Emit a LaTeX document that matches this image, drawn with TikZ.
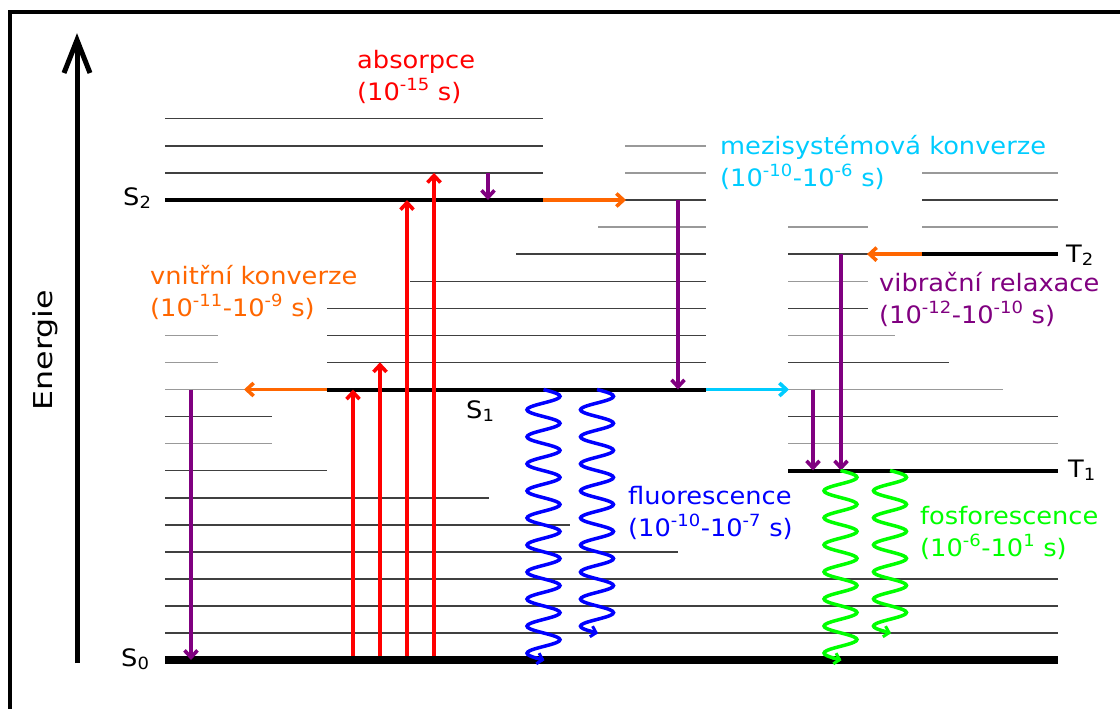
\documentclass[tikz,border=0pt]{standalone}
\usepackage{fontspec}
\setmainfont{DejaVu Sans}[FakeStretch=1.07]
\newfontfamily\enfont{DejaVu Sans}[FakeStretch=1.22]
\usetikzlibrary{arrows.meta}
\definecolor{cOr}{HTML}{FF6600}
\definecolor{cCy}{HTML}{00CCFF}
\definecolor{cPu}{HTML}{800080}
\definecolor{cGr}{HTML}{00FF00}
\definecolor{cRe}{HTML}{FF0000}
\definecolor{cBl}{HTML}{0000FF}
\begin{document}
\begin{tikzpicture}[x=1pt,y=-1pt,
  lvl/.style={line width=1.3pt, black!75},
  lvlL/.style={line width=1.3pt, black!40},
  mainlvl/.style={line width=4pt, black},
  ground/.style={line width=8pt, black},
  tr/.style={line width=3.6pt, -{Straight Barb[length=7pt,width=13pt]}},
  wave/.style={line width=3.5pt},
  wavetip/.style={line width=3pt, -{Straight Barb[length=5pt,width=11pt]}},
  lab/.style={font=\fontsize{24}{32}\selectfont, anchor=base west, align=left, inner sep=0pt},
  st/.style={font=\fontsize{24}{28}\selectfont, anchor=base west, inner sep=0pt},
]
\useasboundingbox (0,0) rectangle (1120,709);
% frame
\draw[line width=4pt] (10,712) -- (10,12) -- (1123,12);
% energy axis
\coordinate (ax0) at (77,663);
\coordinate (ax1) at (77,40);
\draw[line width=5pt] (ax0) -- (ax1);
\draw[line width=5pt, line join=miter] (64,73) -- (ax1) -- (90,73);
\node[rotate=90, inner sep=0pt] (en) at (45,350) {\enfont\fontsize{26}{30}\selectfont Energie};

% ---- levels: S0 manifold
\draw[ground] (165,660) -- (1058,660);
\draw[lvl] (165,633) -- (1058,633);
\draw[lvl] (165,606) -- (1058,606);
\draw[lvl] (165,579) -- (1058,579);
\draw[lvl] (165,552) -- (678,552);
\draw[lvl] (165,525) -- (570,525);
\draw[lvl] (165,498) -- (489,498);
\draw[lvl] (165,470.5) -- (327,470.5);
\draw[lvlL] (165,443.5) -- (272,443.5);
\draw[lvl] (165,416.5) -- (272,416.5);
\draw[lvlL] (165,389.5) -- (327,389.5);
\draw[lvlL] (165,362.3) -- (218,362.3);
\draw[lvlL] (165,335.3) -- (218,335.3);
% ---- S1 manifold
\draw[mainlvl] (327,389.5) -- (706,389.5);
\draw[lvl] (327,362.3) -- (706,362.3);
\draw[lvl] (327,335.3) -- (706,335.3);
\draw[lvl] (327,308.2) -- (706,308.2);
\draw[lvl] (410,281.2) -- (706,281.2);
\draw[lvl] (516,254.1) -- (706,254.1);
\draw[lvlL] (598,227) -- (706,227);
\draw[lvl] (625,200) -- (706,200);
\draw[lvlL] (625,172.9) -- (706,172.9);
\draw[lvlL] (625,145.9) -- (706,145.9);
% ---- S2 manifold
\draw[mainlvl] (165,200) -- (543,200);
\draw[lvl] (165,172.9) -- (543,172.9);
\draw[lvl] (165,145.9) -- (543,145.9);
\draw[lvl] (165,118.8) -- (543,118.8);
% ---- T1 manifold
\draw[mainlvl] (788,470.5) -- (1058,470.5);
\draw[lvlL] (788,443.5) -- (1058,443.5);
\draw[lvl] (788,416.5) -- (1058,416.5);
\draw[lvlL] (788,389.5) -- (1003,389.5);
\draw[lvl] (788,362.3) -- (949,362.3);
\draw[lvlL] (788,335.3) -- (895,335.3);
\draw[lvl] (788,308.2) -- (868,308.2);
\draw[lvlL] (788,281.2) -- (868,281.2);
\draw[lvl] (788,254.1) -- (868,254.1);
\draw[lvlL] (788,227) -- (868,227);
% ---- T2 manifold
\draw[mainlvl] (922,254.1) -- (1058,254.1);
\draw[lvlL] (922,227) -- (1058,227);
\draw[lvl] (922,200) -- (1058,200);
\draw[lvlL] (922,172.9) -- (1058,172.9);

% ---- state labels
\node[st] (S0) at (121,666) {S\textsubscript{0}};
\node[st] (S1) at (466,418) {S\textsubscript{1}};
\node[st] (S2) at (123,205) {S\textsubscript{2}};
\node[st] (T1) at (1068,477) {T\textsubscript{1}};
\node[st] (T2) at (1066,262) {T\textsubscript{2}};

% ---- coordinates for transitions
\coordinate (a1s) at (353,656); \coordinate (a1e) at (353,389.5);
\coordinate (a2s) at (380,656); \coordinate (a2e) at (380,362.3);
\coordinate (a3s) at (407,656); \coordinate (a3e) at (407,200);
\coordinate (a4s) at (434,656); \coordinate (a4e) at (434,172.9);
\coordinate (v1s) at (488,172.9); \coordinate (v1e) at (488,200);
\coordinate (v2s) at (678,200); \coordinate (v2e) at (678,389.5);
\coordinate (v3s) at (191,389.5); \coordinate (v3e) at (191,660);
\coordinate (v4s) at (813,389.5); \coordinate (v4e) at (813,470.5);
\coordinate (v5s) at (841,254.1); \coordinate (v5e) at (841,470.5);
\coordinate (o1s) at (327,389.5); \coordinate (o1e) at (244,389.5);
\coordinate (o2s) at (543,200); \coordinate (o2e) at (626,200);
\coordinate (o3s) at (922,254.1); \coordinate (o3e) at (867,254.1);
\coordinate (c1s) at (706,389.5); \coordinate (c1e) at (789,389.5);

% absorption
\foreach \i in {1,...,4} \draw[tr, cRe] (a\i s) -- (a\i e);
% vibrational relaxation
\foreach \i in {1,...,5} \draw[tr, cPu] (v\i s) -- (v\i e);
% internal conversion
\foreach \i in {1,...,3} \draw[tr, cOr] (o\i s) -- (o\i e);
% intersystem crossing
\draw[tr, cCy] (c1s) -- (c1e);

% fluorescence / phosphorescence waves
\coordinate (f1e) at (543.5,660); \coordinate (f2e) at (597,633);
\coordinate (p1e) at (840.5,660); \coordinate (p2e) at (890,633);
\draw[wave, cBl] plot[variable=\t, domain=0:10, samples=201, smooth] ({543.5+16.5*sin(360*\t)}, {389.5+27.05*\t});
\draw[wave, cBl] plot[variable=\t, domain=0:9, samples=181, smooth] ({597+16.5*sin(360*\t)}, {389.5+27.05*\t});
\draw[wave, cGr] plot[variable=\t, domain=0:7, samples=141, smooth] ({840.5+16.5*sin(360*\t)}, {470.5+27.05*\t});
\draw[wave, cGr] plot[variable=\t, domain=0:6, samples=121, smooth] ({890+16.5*sin(360*\t)}, {470.5+27.05*\t});
\draw[wavetip, cBl] ([shift={(-8,-2.1)}]f1e) -- ([shift={(1,0.26)}]f1e);
\draw[wavetip, cBl] ([shift={(-8,-2.1)}]f2e) -- ([shift={(1,0.26)}]f2e);
\draw[wavetip, cGr] ([shift={(-8,-2.1)}]p1e) -- ([shift={(1,0.26)}]p1e);
\draw[wavetip, cGr] ([shift={(-8,-2.1)}]p2e) -- ([shift={(1,0.26)}]p2e);

% ---- process labels (anchor = baseline of last line)
\node[lab, text=cRe] (labs) at (357,100) {absorpce\\(10\textsuperscript{-15} s)};
\node[lab, text=cOr] (lic) at (150,316) {vnitřní konverze\\(10\textsuperscript{-11}-10\textsuperscript{-9} s)};
\node[lab, text=cCy] (lisc) at (720,186) {mezisystémová konverze\\(10\textsuperscript{-10}-10\textsuperscript{-6} s)};
\node[lab, text=cPu] (lvr) at (879,323) {vibrační relaxace\\(10\textsuperscript{-12}-10\textsuperscript{-10} s)};
\node[lab, text=cBl] (lfl) at (628,536) {fluorescence\\(10\textsuperscript{-10}-10\textsuperscript{-7} s)};
\node[lab, text=cGr] (lph) at (920,556) {fosforescence\\(10\textsuperscript{-6}-10\textsuperscript{1} s)};
\end{tikzpicture}
\end{document}
